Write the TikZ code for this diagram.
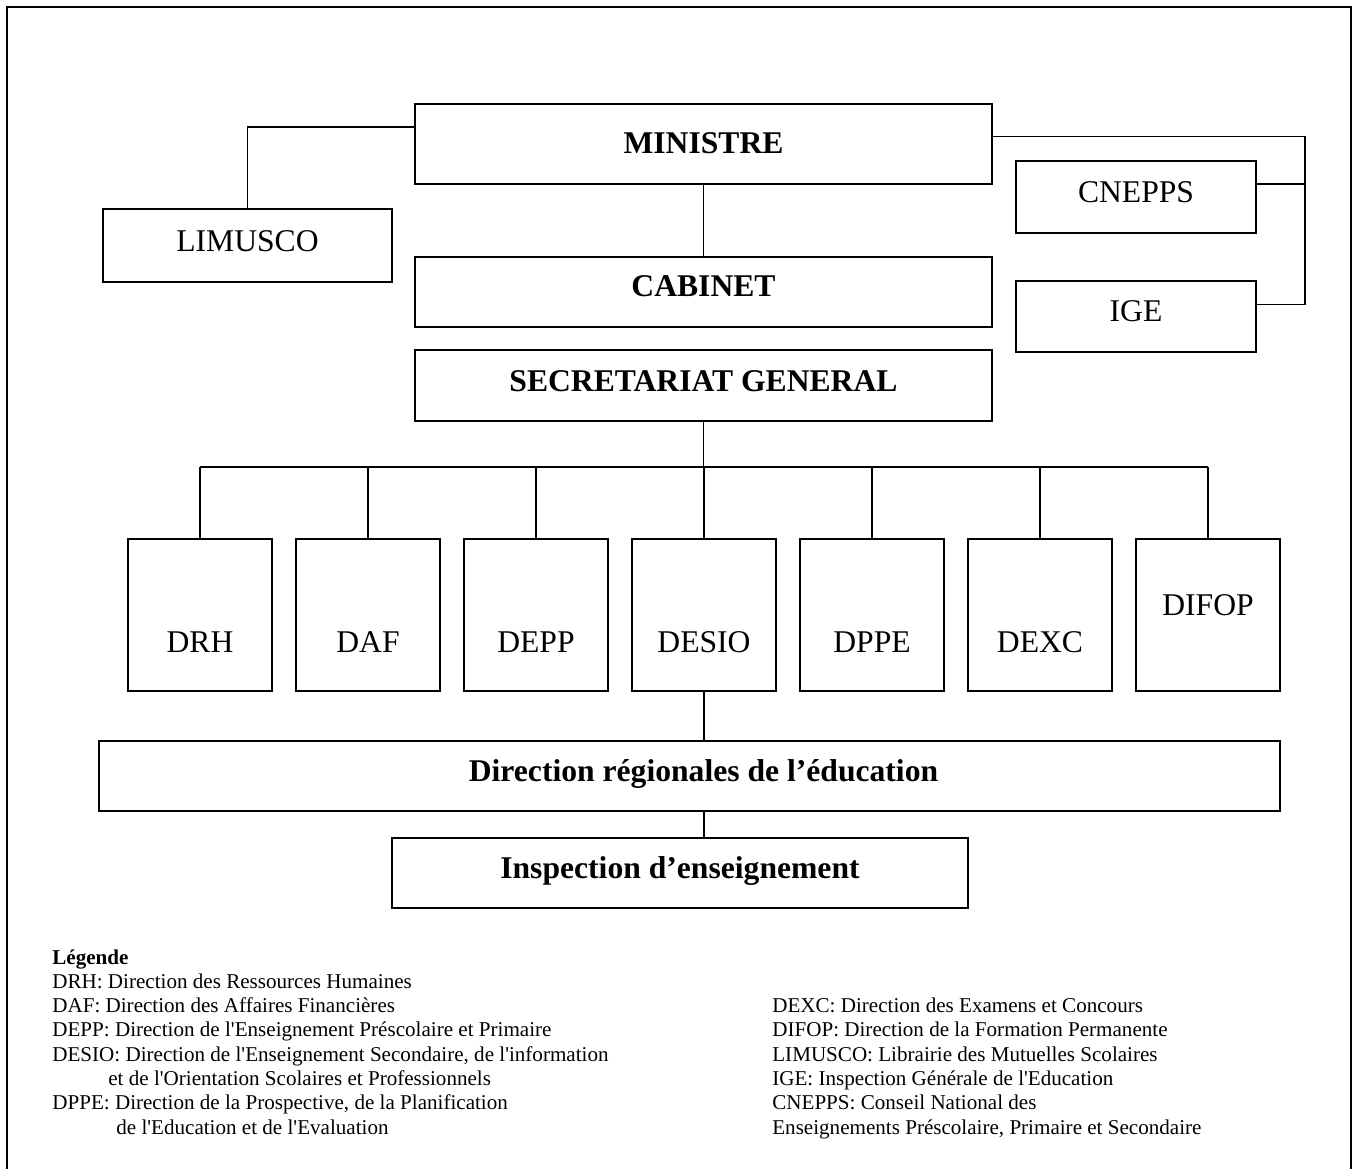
\documentclass[tikz,border=0pt]{standalone}
\usepackage{fontspec}
\setmainfont{Liberation Serif}
\newfontfamily\legendfont{Liberation Serif}
\usetikzlibrary{positioning}

\definecolor{cLine}{gray}{0.0}
\definecolor{cText}{gray}{0.0}

\begin{document}
\begin{tikzpicture}[x=0.02cm, y=-0.02cm,
  unit/.style={draw=cLine, line width=1pt, inner sep=0pt, text=cText,
    font=\fontsize{18}{21}\selectfont, text depth=0.6cm},
  chief/.style={unit, font=\fontsize{18}{21}\selectfont\bfseries},
  dirbox/.style={unit, minimum width=2.88cm, text height=2.27cm, text depth=0.77cm},
  link/.style={draw=cLine, line width=0.9pt},
  legend/.style={anchor=base west, inner sep=0pt, text=cText,
    font=\legendfont\fontsize{12}{14}\selectfont}]

\useasboundingbox (0,0) rectangle (1356,1169);

% ── Frame ──
\draw[cLine, line width=1.1pt] (7,1169) -- (7,7) -- (1351,7) -- (1351,1169);

% ── Top of the ministry ──
\node[chief, minimum width=11.54cm, text height=1.0cm] (ministre) at (703.5,144) {MINISTRE};
\node[chief, minimum width=11.54cm, text height=0.8cm] (cabinet) at (703.5,292) {CABINET};
\node[chief, minimum width=11.54cm, text height=0.82cm] (sg) at (703.5,385.5) {SECRETARIAT GENERAL};

\node[unit, minimum width=5.78cm, text height=0.86cm] (limusco) at (247.5,245.5) {LIMUSCO};
\node[unit, minimum width=4.8cm, text height=0.84cm] (cnepps) at (1136,197) {CNEPPS};
\node[unit, minimum width=4.8cm, text height=0.82cm] (ige) at (1136,316.5) {IGE};

\draw[link] (limusco.north) |- ([yshift=0.34cm]ministre.west);
\draw[link] ([yshift=0.146cm]ministre.east) -- ++(312,0) |- ([yshift=0.24cm]ige.east);
\draw[link] ([yshift=0.26cm]cnepps.east) -- ++(48,0);
\draw[link] (ministre) -- (cabinet);

% ── Directions centrales ──
\node[dirbox] (drh)   at (200,615)  {DRH};
\node[dirbox] (daf)   at (368,615)  {DAF};
\node[dirbox] (depp)  at (536,615)  {DEPP};
\node[dirbox] (desio) at (704,615)  {DESIO};
\node[dirbox] (dppe)  at (872,615)  {DPPE};
\node[dirbox] (dexc)  at (1040,615) {DEXC};
\node[dirbox, text height=1.53cm, text depth=1.51cm] (difop) at (1208,615) {DIFOP};

\coordinate (bus) at (705,467);
\draw[link] (sg.south) -- (sg.south |- bus);
\draw[link] (drh.north |- bus) -- (difop.north |- bus);
\foreach \d in {drh,daf,depp,desio,dppe,dexc,difop}
    \draw[link] (\d.north) -- (\d.north |- bus);

% ── Services déconcentrés ──
\node[chief, minimum width=23.62cm, text height=0.8cm] (dre) at (689.5,776) {\hspace*{0.56cm}Direction régionales de l’éducation};
\node[chief, minimum width=11.52cm, text height=0.8cm] (insp) at (680,873) {Inspection d’enseignement};

\draw[link] (desio.south) -- (desio.south |- dre.north);
\draw[link] (dre.south -| desio.south) -- (insp.north -| desio.south);

% ── Legend ──
\node[legend, font=\legendfont\fontsize{12}{14}\selectfont\bfseries] (leg0) at (52,964) {Légende};
\node[legend] (leg1) at (52,988.3)  {DRH: Direction des Ressources Humaines};
\node[legend] (leg2) at (52,1012.6) {DAF: Direction des Affaires Financières};
\node[legend] (leg3) at (52,1036.9) {DEPP: Direction de l'Enseignement Préscolaire et Primaire};
\node[legend] (leg4) at (52,1061.2) {DESIO: Direction de l'Enseignement Secondaire, de l'information};
\node[legend] (leg5) at (108,1085.5) {et de l'Orientation Scolaires et Professionnels};
\node[legend] (leg6) at (52,1109.8) {DPPE: Direction de la Prospective, de la Planification};
\node[legend] (leg7) at (116,1134.1) {de l'Education et de l'Evaluation};

\node[legend] (leg8)  at (772,1012.6) {DEXC: Direction des Examens et Concours};
\node[legend] (leg9)  at (772,1036.9) {DIFOP: Direction de la Formation Permanente};
\node[legend] (leg10) at (772,1061.2) {LIMUSCO: Librairie des Mutuelles Scolaires};
\node[legend] (leg11) at (772,1085.5) {IGE: Inspection Générale de l'Education};
\node[legend] (leg12) at (772,1109.8) {CNEPPS: Conseil National des};
\node[legend] (leg13) at (772,1134.1) {Enseignements Préscolaire, Primaire et Secondaire};

\end{tikzpicture}
\end{document}
